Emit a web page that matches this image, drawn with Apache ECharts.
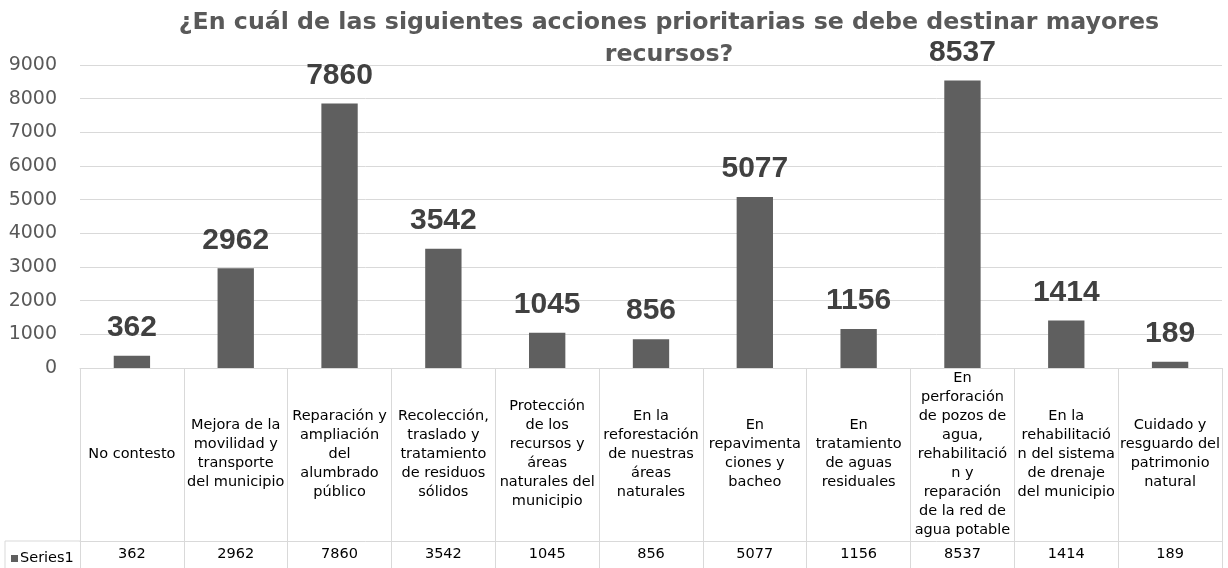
<!DOCTYPE html>
<html>
<head>
<meta charset="utf-8">
<script src="https://cdn.jsdelivr.net/npm/echarts@6/dist/echarts.min.js"></script>
<style>
  html, body { margin: 0; padding: 0; background: #fff; }
  #chart { width: 1228px; height: 568px; }
</style>
</head>
<body>
<div id="chart"></div>
<script>
// datos de la grafica (los saltos de linea son los de la tabla original)
const categories = [
  'No contesto',
  'Mejora de la\nmovilidad y\ntransporte\ndel municipio',
  'Reparación y\nampliación\ndel\nalumbrado\npúblico',
  'Recolección,\ntraslado y\ntratamiento\nde residuos\nsólidos',
  'Protección\nde los\nrecursos y\náreas\nnaturales del\nmunicipio',
  'En la\nreforestación\nde nuestras\náreas\nnaturales',
  'En\nrepavimenta\nciones y\nbacheo',
  'En\ntratamiento\nde aguas\nresiduales',
  'En\nperforación\nde pozos de\nagua,\nrehabilitació\nn y\nreparación\nde la red de\nagua potable',
  'En la\nrehabilitació\nn del sistema\nde drenaje\ndel municipio',
  'Cuidado y\nresguardo del\npatrimonio\nnatural'
];
const values = [362, 2962, 7860, 3542, 1045, 856, 5077, 1156, 8537, 1414, 189];
const seriesName = 'Series1';
const yTicks = { min: 0, max: 9000, interval: 1000 };
const titleText = '¿En cuál de las siguientes acciones prioritarias se debe destinar mayores\nrecursos?';

const gridColor = '#d9d9d9';
const font = 'DejaVu Sans';

let chart = echarts.init(document.getElementById('chart'));
chart.setOption({
  animation: false,
  title: {
    text: titleText,
    left: 669,
    top: 7,
    padding: 0,
    textAlign: 'center',
    textStyle: {
      fontFamily: font,
      fontSize: 23.7,
      fontWeight: 'bold',
      color: '#595959',
      lineHeight: 32,
      align: 'center'
    }
  },
  legend: {
    data: [seriesName],
    left: 6,
    top: 546,
    icon: 'rect',
    itemWidth: 7,
    itemHeight: 7,
    textStyle: { fontFamily: font, fontSize: 14.5, color: '#000', padding: [0, 0, 0, -3] }
  },
  grid: { left: 80, right: 6, top: 65, bottom: 200 },
  xAxis: [
    {
      // fila de nombres de la tabla
      type: 'category',
      data: categories,
      position: 'bottom',
      axisLine: { lineStyle: { color: gridColor } },
      axisTick: { show: true, length: 173, interval: 0, lineStyle: { color: gridColor } },
      axisLabel: {
        interval: 0,
        margin: 86,
        verticalAlign: 'middle',
        lineHeight: 19,
        fontFamily: font,
        fontSize: 14.5,
        color: '#000'
      }
    },
    {
      // fila de valores de la tabla
      type: 'category',
      data: categories,
      position: 'bottom',
      offset: 173,
      axisLine: { lineStyle: { color: gridColor } },
      axisTick: { show: true, length: 30, interval: 0, lineStyle: { color: gridColor } },
      axisLabel: {
        interval: 0,
        margin: 13,
        verticalAlign: 'middle',
        fontFamily: font,
        fontSize: 14.5,
        color: '#000',
        formatter: function (v, i) { return String(values[i]); }
      }
    }
  ],
  yAxis: {
    type: 'value',
    min: yTicks.min,
    max: yTicks.max,
    interval: yTicks.interval,
    axisLine: { show: false },
    axisTick: { show: false },
    splitLine: { lineStyle: { color: gridColor } },
    axisLabel: {
      fontFamily: font,
      fontSize: 19,
      color: '#595959',
      margin: 23,
      formatter: function (v) { return String(v); }
    }
  },
  graphic: [
    { type: 'line', shape: { x1: 5, y1: 541, x2: 80, y2: 541 }, style: { stroke: gridColor, lineWidth: 1 } },
    { type: 'line', shape: { x1: 5, y1: 541, x2: 5, y2: 568 }, style: { stroke: gridColor, lineWidth: 1 } }
  ],
  series: [
    {
      name: seriesName,
      type: 'bar',
      xAxisIndex: 0,
      data: values,
      barWidth: '35%',
      itemStyle: { color: '#5f5f5f' },
      label: {
        show: true,
        position: 'top',
        distance: 13,
        fontFamily: 'Liberation Sans',
        fontSize: 30,
        fontWeight: 'bold',
        color: '#404040'
      }
    }
  ]
});
</script>
</body>
</html>
